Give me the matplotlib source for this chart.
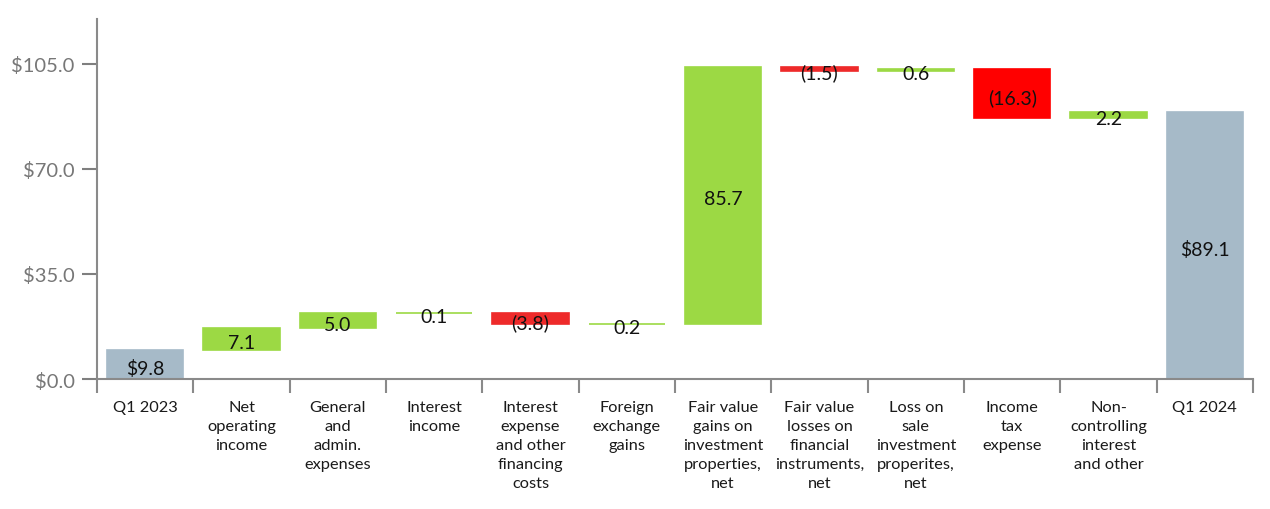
import matplotlib
matplotlib.use("Agg")
import matplotlib.pyplot as plt
import numpy as np

plt.rcParams['font.family'] = ['Lato', 'DejaVu Sans']

# Data
categories = ["Q1 2023", "Net\noperating\nincome", "General\nand\nadmin.\nexpenses",
              "Interest\nincome", "Interest\nexpense\nand other\nfinancing\ncosts",
              "Foreign\nexchange\ngains", "Fair value\ngains on\ninvestment\nproperties,\nnet",
              "Fair value\nlosses on\nfinancial\ninstruments,\nnet", "Loss on\nsale\ninvestment\nproperites,\nnet",
              "Income\ntax\nexpense", "Non-\ncontrolling\ninterest\nand other", "Q1 2024"]
changes = [9.8, 7.1, 5.0, 0.1, -3.8, 0.2, 85.7, -1.5, 0.6, -16.3, 2.2]
value_labels = ["$9.8", "7.1", "5.0", "0.1", "(3.8)", "0.2", "85.7", "(1.5)", "0.6", "(16.3)", "2.2", "$89.1"]
yticks = [0, 35, 70, 105]

GREEN = "#9cd944"
RED = "#ee2a2a"
RED2 = "#ff0000"
GRAY = "#a6bac8"

# build waterfall bottoms/heights
bottoms, heights, colors = [], [], []
running = 0.0
for i, c in enumerate(changes):
    if i == 0:
        bottoms.append(0.0)
        heights.append(c)
        colors.append(GRAY)
        running = c
        continue
    if c >= 0:
        bottoms.append(running)
        heights.append(c)
        colors.append(GREEN)
    else:
        bottoms.append(running + c)
        heights.append(-c)
        colors.append(RED if i != 9 else RED2)
    running += c
bottoms.append(0.0)
heights.append(running)
colors.append(GRAY)

fig = plt.figure(figsize=(12.7, 5.1), dpi=100)
ax = fig.add_axes([0.0764, 0.2549, 0.9102, 0.7059])

x = np.arange(len(categories))
ax.bar(x, heights, bottom=bottoms, width=0.79, color=colors,
       edgecolor=colors, linewidth=1.2)

for xi, b, h, lab in zip(x, bottoms, heights, value_labels):
    ax.text(xi, b + h / 2 - 1.2, lab, ha='center', va='center',
            fontsize=14, color='#111111')

ax.set_xlim(-0.5, len(categories) - 0.5)
ax.set_ylim(0, 120)
ax.set_yticks(yticks)
ax.set_yticklabels([f"${v:.1f}" for v in yticks])
ax.tick_params(axis='y', colors='#7f7f7f', labelsize=14.5, length=11, width=1.5,
               labelcolor='#777777', pad=5)

ax.set_xticks(x)
ax.set_xticklabels(categories, fontsize=11.8, color='#1a1a1a', linespacing=1.45)
ax.tick_params(axis='x', which='major', length=0, pad=15)
ax.set_xticks(np.arange(-0.5, len(categories)), minor=True)
ax.tick_params(axis='x', which='minor', length=10, width=1.5, color='#8a8a8a')
for lbl in ax.get_xticklabels():
    lbl.set_verticalalignment('top')

for s in ['top', 'right']:
    ax.spines[s].set_visible(False)
for s in ['left', 'bottom']:
    ax.spines[s].set_color('#8a8a8a')
    ax.spines[s].set_linewidth(1.5)

fig.savefig("out.png", dpi=100)
